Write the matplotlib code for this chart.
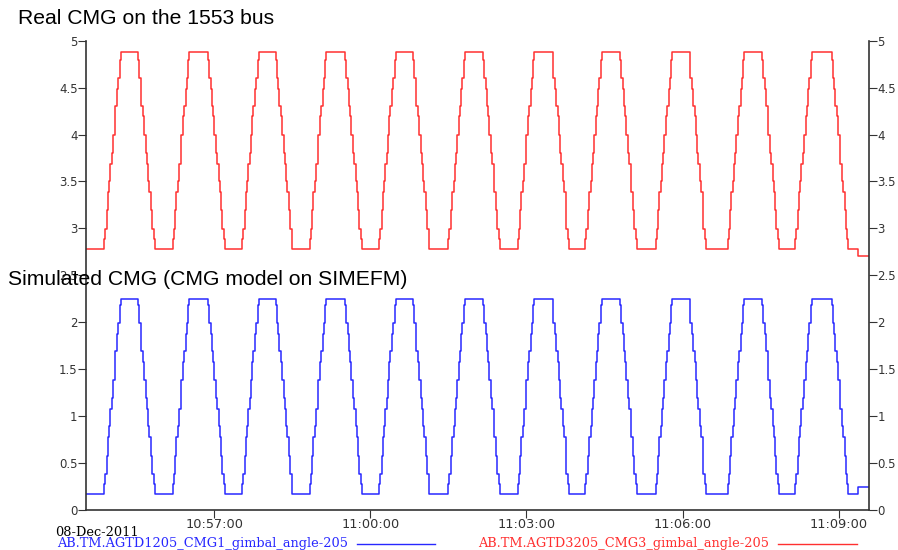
import matplotlib
matplotlib.use("Agg")
import matplotlib.pyplot as plt
import matplotlib.dates as mdates
from matplotlib.lines import Line2D
from datetime import datetime, timedelta

# data (08-Dec-2011)
day = "2011-12-08 "
x_start = "10:54:32"
x_end = "11:09:35"
rise_start = ["10:54:53", "10:56:12", "10:57:32", "10:58:50", "11:00:10", "11:01:30",
              "11:02:50", "11:04:08", "11:05:29", "11:06:52", "11:08:10"]
fall_start = ["10:55:32", "10:56:53", "10:58:11", "10:59:31", "11:00:49", "11:02:10",
              "11:03:30", "11:04:48", "11:06:08", "11:07:32", "11:08:52"]
ramp_offsets = [0, 1, 3, 4, 6, 7, 9, 10, 12, 13, 15, 16, 18, 19]  # seconds into a ramp
red_levels = [2.78, 2.89, 2.99, 3.20, 3.39, 3.50, 3.69, 3.80, 4.00, 4.20, 4.30, 4.49, 4.60, 4.79, 4.88]
blue_levels = [0.17, 0.28, 0.38, 0.58, 0.78, 0.89, 1.08, 1.19, 1.38, 1.58, 1.69, 1.88, 1.99, 2.18, 2.25]
last_step = "11:09:22"
red_last = 2.71
blue_last = 0.25

red_name = "AB.TM.AGTD3205_CMG3_gimbal_angle-205"
blue_name = "AB.TM.AGTD1205_CMG1_gimbal_angle-205"
yticks = [0, 0.5, 1, 1.5, 2, 2.5, 3, 3.5, 4, 4.5, 5]


def ts(s):
    return datetime.strptime(day + s, "%Y-%m-%d %H:%M:%S")


def build(levels, last):
    t = [ts(x_start)]
    v = [levels[0]]
    for r, f in zip(rise_start, fall_start):
        for k, off in enumerate(ramp_offsets):
            t.append(ts(r) + timedelta(seconds=off))
            v.append(levels[k + 1])
        down = levels[::-1]
        for k, off in enumerate(ramp_offsets):
            t.append(ts(f) + timedelta(seconds=off))
            v.append(down[k + 1])
    t.append(ts(last_step))
    v.append(last)
    t.append(ts(x_end))
    v.append(last)
    return t, v


red_c = "#ff3030"
blue_c = "#2828ff"

fig = plt.figure(figsize=(8.98, 5.5), dpi=100)
ax = fig.add_axes([86 / 898, 40 / 550, (869 - 86) / 898, (510 - 40.7) / 550])

tr, vr = build(red_levels, red_last)
tb, vb = build(blue_levels, blue_last)
ax.plot(tr, vr, drawstyle="steps-post", color=red_c, lw=1.1)
ax.plot(tb, vb, drawstyle="steps-post", color=blue_c, lw=1.1)

ax.set_xlim(ts(x_start), ts(x_end))
ax.set_ylim(0, 5)
ax.set_yticks(yticks)
ax.set_yticklabels(["%g" % y for y in yticks])
ax.xaxis.set_major_locator(mdates.MinuteLocator(byminute=range(0, 60, 3)))
ax.xaxis.set_major_formatter(mdates.DateFormatter("%H:%M:%S"))

ax.spines["top"].set_visible(False)
for s in ["left", "right", "bottom"]:
    ax.spines[s].set_color("#333333")
    ax.spines[s].set_linewidth(1.2)
ax.tick_params(axis="y", which="both", left=True, right=True, labelleft=True, labelright=True,
               direction="out", length=6, pad=0, labelsize=8.5, colors="#333333")
ax.tick_params(axis="x", direction="out", length=6, pad=0, labelsize=9.3, colors="#333333")

fig.text(18 / 898, 1 - 18 / 550, "Real CMG on the 1553 bus", fontsize=15.2,
         family="Liberation Sans", va="center", ha="left")
fig.text(8 / 898, 1 - 280 / 550, "Simulated CMG (CMG model on SIMEFM)", fontsize=15.2,
         family="Liberation Sans", va="center", ha="left")

fig.text(55 / 898, 1 - 532 / 550, "08-Dec-2011", fontsize=9.3, family="DejaVu Serif",
         va="center", ha="left")
fig.text(57 / 898, 1 - 544 / 550, blue_name, fontsize=9.3, family="DejaVu Serif",
         va="center", ha="left", color=blue_c)
fig.add_artist(Line2D([357 / 898, 435 / 898], [1 - 544 / 550] * 2, color=blue_c, lw=1,
                      transform=fig.transFigure))
fig.text(478 / 898, 1 - 544 / 550, red_name, fontsize=9.3, family="DejaVu Serif",
         va="center", ha="left", color=red_c)
fig.add_artist(Line2D([778 / 898, 857 / 898], [1 - 544 / 550] * 2, color=red_c, lw=1,
                      transform=fig.transFigure))

fig.savefig("out.png", dpi=100)
